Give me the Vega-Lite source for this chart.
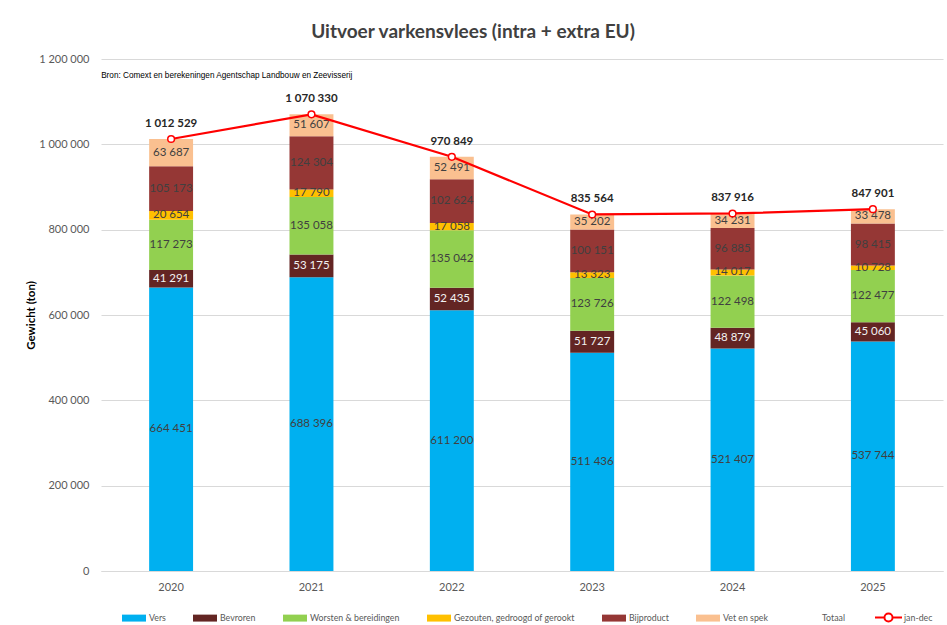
{
  "$schema": "https://vega.github.io/schema/vega-lite/v6.json",
  "width": 842,
  "height": 512,
  "autosize": "none",
  "padding": {"left": 101, "top": 59, "right": 4, "bottom": 54},
  "background": "white",
  "config": {
    "font": "Lato",
    "view": {"stroke": null},
    "locale": {"number": {"decimal": ",", "thousands": " ", "grouping": [3], "currency": ["", " €"]}}
  },
  "title": {
    "text": "Uitvoer varkensvlees (intra + extra EU)",
    "fontSize": 19,
    "fontWeight": "bold",
    "color": "#404040",
    "anchor": "middle",
    "dx": -49,
    "offset": 11,
    "font": "Lato"
  },
  "datasets": {
    "seg": [
      {"year": "2020", "k": 1, "cat": "Vers", "v": 664451},
      {"year": "2020", "k": 2, "cat": "Bevroren", "v": 41291},
      {"year": "2020", "k": 3, "cat": "Worsten & bereidingen", "v": 117273},
      {"year": "2020", "k": 4, "cat": "Gezouten, gedroogd of gerookt", "v": 20654},
      {"year": "2020", "k": 5, "cat": "Bijproduct", "v": 105173},
      {"year": "2020", "k": 6, "cat": "Vet en spek", "v": 63687},
      {"year": "2021", "k": 1, "cat": "Vers", "v": 688396},
      {"year": "2021", "k": 2, "cat": "Bevroren", "v": 53175},
      {"year": "2021", "k": 3, "cat": "Worsten & bereidingen", "v": 135058},
      {"year": "2021", "k": 4, "cat": "Gezouten, gedroogd of gerookt", "v": 17790},
      {"year": "2021", "k": 5, "cat": "Bijproduct", "v": 124304},
      {"year": "2021", "k": 6, "cat": "Vet en spek", "v": 51607},
      {"year": "2022", "k": 1, "cat": "Vers", "v": 611200},
      {"year": "2022", "k": 2, "cat": "Bevroren", "v": 52435},
      {"year": "2022", "k": 3, "cat": "Worsten & bereidingen", "v": 135042},
      {"year": "2022", "k": 4, "cat": "Gezouten, gedroogd of gerookt", "v": 17058},
      {"year": "2022", "k": 5, "cat": "Bijproduct", "v": 102624},
      {"year": "2022", "k": 6, "cat": "Vet en spek", "v": 52491},
      {"year": "2023", "k": 1, "cat": "Vers", "v": 511436},
      {"year": "2023", "k": 2, "cat": "Bevroren", "v": 51727},
      {"year": "2023", "k": 3, "cat": "Worsten & bereidingen", "v": 123726},
      {"year": "2023", "k": 4, "cat": "Gezouten, gedroogd of gerookt", "v": 13323},
      {"year": "2023", "k": 5, "cat": "Bijproduct", "v": 100151},
      {"year": "2023", "k": 6, "cat": "Vet en spek", "v": 35202},
      {"year": "2024", "k": 1, "cat": "Vers", "v": 521407},
      {"year": "2024", "k": 2, "cat": "Bevroren", "v": 48879},
      {"year": "2024", "k": 3, "cat": "Worsten & bereidingen", "v": 122498},
      {"year": "2024", "k": 4, "cat": "Gezouten, gedroogd of gerookt", "v": 14017},
      {"year": "2024", "k": 5, "cat": "Bijproduct", "v": 96885},
      {"year": "2024", "k": 6, "cat": "Vet en spek", "v": 34231},
      {"year": "2025", "k": 1, "cat": "Vers", "v": 537744},
      {"year": "2025", "k": 2, "cat": "Bevroren", "v": 45060},
      {"year": "2025", "k": 3, "cat": "Worsten & bereidingen", "v": 122477},
      {"year": "2025", "k": 4, "cat": "Gezouten, gedroogd of gerookt", "v": 10728},
      {"year": "2025", "k": 5, "cat": "Bijproduct", "v": 98415},
      {"year": "2025", "k": 6, "cat": "Vet en spek", "v": 33478}
    ],
    "tot": [
      {"year": "2020", "total": 1012529},
      {"year": "2021", "total": 1070330},
      {"year": "2022", "total": 970849},
      {"year": "2023", "total": 835564},
      {"year": "2024", "total": 837916},
      {"year": "2025", "total": 847901}
    ],
    "note": [
      {"year": "2020", "y": 1160000, "txt": "Bron: Comext en berekeningen Agentschap Landbouw en Zeevisserij"}
    ]
  },
  "encoding": {
    "x": {
      "field": "year",
      "type": "nominal",
      "scale": {"paddingInner": 0.687, "paddingOuter": 0.343},
      "axis": {
        "title": null,
        "labelAngle": 0,
        "labelFontSize": 11,
        "labelColor": "#595959",
        "labelPadding": 10,
        "ticks": false,
        "domainColor": "#D9D9D9",
        "domainWidth": 1
      }
    }
  },
  "layer": [
    {
      "data": {"name": "seg"},
      "mark": {"type": "bar"},
      "encoding": {
        "y": {
          "field": "v",
          "type": "quantitative",
          "stack": "zero",
          "scale": {"domain": [0, 1200000]},
          "axis": {
            "title": "Gewicht (ton)",
            "titleFontSize": 11.5,
            "titleFontWeight": "bold",
            "titleColor": "#000000",
            "titlePadding": 2,
            "values": [0, 200000, 400000, 600000, 800000, 1000000, 1200000],
            "format": ",d",
            "labelFontSize": 11,
            "labelColor": "#595959",
            "labelPadding": 12,
            "ticks": false,
            "domain": false,
            "gridColor": "#D9D9D9",
            "gridWidth": 1
          }
        },
        "order": {"field": "k", "type": "quantitative", "sort": "ascending"},
        "color": {
          "field": "cat",
          "type": "nominal",
          "scale": {
            "domain": ["Vers", "Bevroren", "Worsten & bereidingen", "Gezouten, gedroogd of gerookt", "Bijproduct", "Vet en spek", "Totaal"],
            "range": ["#00B0F0", "#632523", "#92D050", "#FFC000", "#953735", "#FAC090", "transparent"]
          },
          "legend": {
            "title": null,
            "orient": "none",
            "legendX": 21,
            "legendY": 547,
            "direction": "horizontal",
            "symbolType": "M-1,-0.29H1V0.29H-1Z",
            "symbolSize": 576,
            "symbolStrokeWidth": 0,
            "labelFontSize": 8.8,
            "labelColor": "#595959",
            "labelOffset": 3,
            "columnPadding": 27
          }
        }
      }
    },
    {
      "data": {"name": "seg"},
      "mark": {"type": "text", "fontSize": 11.5},
      "encoding": {
        "y": {"field": "v", "type": "quantitative", "stack": "zero", "bandPosition": 0.5},
        "order": {"field": "k", "type": "quantitative", "sort": "ascending"},
        "text": {"field": "v", "type": "quantitative", "format": ",d"},
        "color": {
          "field": "cat",
          "type": "nominal",
          "scale": {
            "domain": ["Vers", "Bevroren", "Worsten & bereidingen", "Gezouten, gedroogd of gerookt", "Bijproduct", "Vet en spek"],
            "range": ["#404040", "#F2F2F2", "#404040", "#404040", "#404040", "#404040"]
          },
          "legend": null
        }
      }
    },
    {
      "data": {"name": "tot"},
      "mark": {"type": "line", "strokeWidth": 2.25},
      "encoding": {
        "y": {"field": "total", "type": "quantitative"},
        "stroke": {
          "datum": "jan-dec",
          "type": "nominal",
          "scale": {"domain": ["jan-dec"], "range": ["#FF0000"]},
          "legend": {
            "title": null,
            "orient": "none",
            "legendX": 773,
            "legendY": 544,
            "symbolType": "M-1,0H-0.3M0.3,0H1M-0.3,0A0.3,0.3 0 1 1 0.3,0A0.3,0.3 0 1 1 -0.3,0",
            "symbolSize": 729,
            "symbolFillColor": "white",
            "symbolStrokeWidth": 2,
            "labelFontSize": 8.8,
            "labelColor": "#595959",
            "labelOffset": 1
          }
        }
      }
    },
    {
      "data": {"name": "tot"},
      "mark": {"type": "point", "shape": "circle", "filled": true, "fill": "white", "stroke": "#FF0000", "strokeWidth": 1.5, "size": 45, "opacity": 1},
      "encoding": {
        "y": {"field": "total", "type": "quantitative"}
      }
    },
    {
      "data": {"name": "tot"},
      "mark": {"type": "text", "fontSize": 11.5, "fontWeight": "bold", "color": "#262626", "dy": -15},
      "encoding": {
        "y": {"field": "total", "type": "quantitative"},
        "text": {"field": "total", "type": "quantitative", "format": ",d"}
      }
    },
    {
      "data": {"name": "note"},
      "mark": {"type": "text", "fontSize": 8.2, "align": "left", "color": "#000000", "dx": -48, "font": "Liberation Sans"},
      "encoding": {
        "x": {"field": "year", "type": "nominal", "bandPosition": 0},
        "y": {"field": "y", "type": "quantitative"},
        "text": {"field": "txt"}
      }
    }
  ],
  "resolve": {"scale": {"color": "independent"}}
}
